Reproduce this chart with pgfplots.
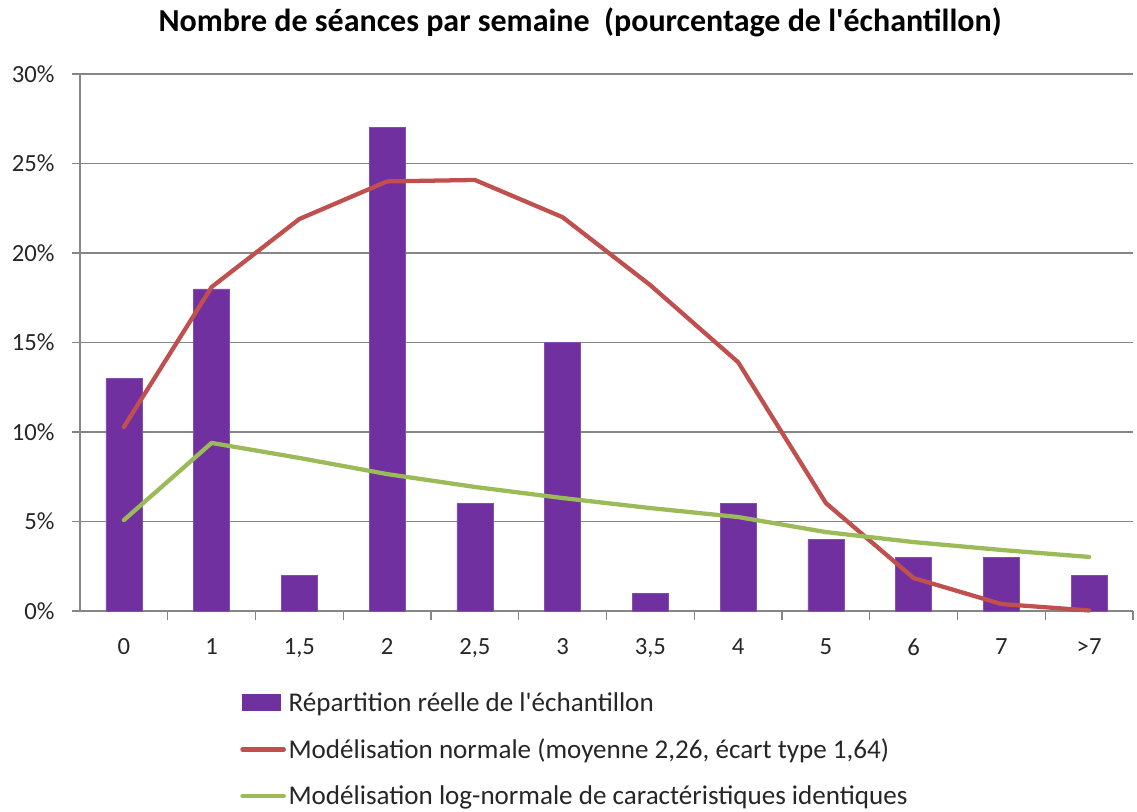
\documentclass[border=0pt]{standalone}
\usepackage{pgfplots}
\pgfplotsset{compat=1.18}
\usepackage{fontspec}
\setmainfont{Carlito}
\definecolor{barpurple}{HTML}{7030A0}
\definecolor{linered}{HTML}{C0504D}
\definecolor{linegreen}{HTML}{9BBB59}
\definecolor{axgray}{HTML}{868686}
\begin{document}
\begin{tikzpicture}
\useasboundingbox (-60pt,-150pt) rectangle (792.75pt,458.25pt);
\begin{axis}[
  at={(0,0)}, anchor=south west,
  scale only axis,
  width=789.75pt, height=402.75pt,
  xmin=-0.5, xmax=11.5,
  ymin=0, ymax=30,
  axis lines=left,
  axis line style={draw=axgray, line width=0.8pt, -},
  xtick={0,...,11},
  xticklabels={0,1,{1,5},2,{2,5},3,{3,5},4,5,6,7,>7},
  major x tick style={draw=none},
  minor xtick={0.5,1.5,...,11.5},
  minor x tick style={draw=axgray, line width=0.8pt},
  minor tick length=6.5pt,
  ytick={0,5,...,30},
  yticklabels={0\%,5\%,10\%,15\%,20\%,25\%,30\%},
  y tick style={draw=axgray, line width=0.8pt},
  major tick length=6pt,
  tick align=outside,
  ymajorgrids,
  grid style={draw=axgray, line width=0.8pt},
  tick label style={font=\fontsize{18.5}{22}\selectfont, text=black!85},
  xticklabel style={yshift=-11pt},
  yticklabel style={xshift=-9.5pt},
  clip=false,
  legend style={at={(axis description cs:0.152,-0.146)}, anchor=north west, draw=none, fill=none,
    font=\fontsize{20.3}{24}\selectfont, row sep=15pt, inner sep=0pt, text=black!85},
  legend cell align=left,
]
\addplot[ybar, bar width=27pt, fill=barpurple, draw=barpurple!85!white,
  legend image code/.code={\fill[barpurple] (0pt,-6pt) rectangle (28pt,6pt);}]
  coordinates {(0,13) (1,18) (2,2) (3,27) (4,6) (5,15) (6,1) (7,6) (8,4) (9,3) (10,3) (11,2)};
\addlegendentry{Répartition réelle de l\textquotesingle échantillon}
\addplot[color=linered, line width=3.2pt, line join=round, line cap=round,
  legend image code/.code={\draw[linered, line width=3.2pt] (0pt,0pt) -- (31pt,0pt);}]
  coordinates {(0,10.28) (1,18.1) (2,21.9) (3,24.0) (4,24.08) (5,22.0) (6,18.2) (7,13.9) (8,6.03) (9,1.84) (10,0.39) (11,0.03)};
\addlegendentry{Modélisation normale (moyenne 2,26, écart type 1,64)}
\addplot[color=linegreen, line width=3.2pt, line join=round, line cap=round,
  legend image code/.code={\draw[linegreen, line width=3.2pt] (0pt,0pt) -- (31pt,0pt);}]
  coordinates {(0,5.08) (1,9.39) (2,8.55) (3,7.65) (4,6.93) (5,6.31) (6,5.75) (7,5.25) (8,4.41) (9,3.85) (10,3.41) (11,3.02)};
\addlegendentry{Modélisation log-normale de caractéristiques identiques}
\node[font=\bfseries\fontsize{24}{28}\selectfont, text=black] at (axis description cs:0.475,1.097) {Nombre de séances par semaine~~(pourcentage de l\textquotesingle échantillon)};
\end{axis}
\end{tikzpicture}
\end{document}
